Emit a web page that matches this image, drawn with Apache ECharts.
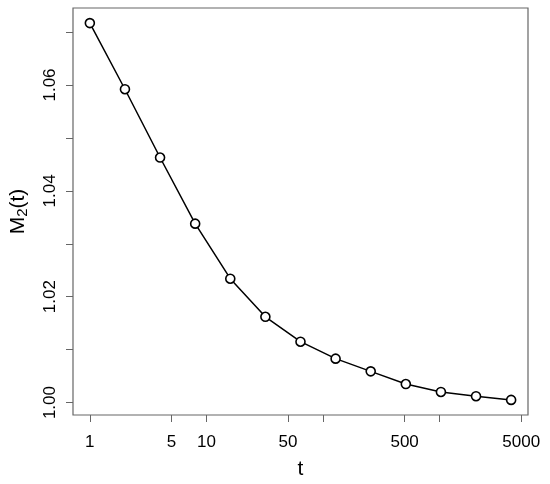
<!DOCTYPE html>
<html>
<head>
<meta charset="utf-8">
<script src="https://cdn.jsdelivr.net/npm/echarts@6/dist/echarts.min.js"></script>
<style>html,body{margin:0;padding:0;background:#fff;}#c{width:550px;height:484px;}</style>
</head>
<body>
<div id="c"></div>
<script>
const tValues = [1, 2, 4, 8, 16, 32, 64, 128, 256, 512, 1024, 2048, 4096];
const m2Values = [1.0717, 1.0592, 1.0463, 1.0338, 1.0234, 1.0162, 1.0115, 1.0083, 1.0059, 1.0035, 1.0020, 1.0012, 1.0005];
const xTickValues = [1, 5, 10, 50, 100, 500, 1000, 5000];
const xLabelValues = [1, 5, 10, 50, 500, 5000];
const yTickValues = [1.00, 1.01, 1.02, 1.03, 1.04, 1.05, 1.06, 1.07];
const yLabelValues = [1.00, 1.02, 1.04, 1.06];

const FONT = "'Liberation Sans', Arial, Helvetica, sans-serif";
const chart = echarts.init(document.getElementById('c'), null, {renderer: 'canvas'});
chart.setOption({
  animation: false,
  backgroundColor: '#ffffff',
  grid: {left: 73, top: 8, right: 22, bottom: 69, show: true, borderColor: '#666666', borderWidth: 1.2, backgroundColor: 'transparent', containLabel: false, outerBoundsMode: 'none'},
  xAxis: {
    type: 'log',
    min: 0.717,
    max: 5714,
    name: 't',
    nameLocation: 'middle',
    nameGap: 44,
    nameTextStyle: {fontFamily: FONT, fontSize: 21, color: '#000'},
    axisLine: {show: false},
    splitLine: {show: false},
    minorTick: {show: false},
    axisTick: {show: true, inside: false, length: 7, lineStyle: {color: '#666666', width: 1}, customValues: xTickValues},
    axisLabel: {fontFamily: FONT, fontSize: 17, color: '#000', margin: 19, customValues: xLabelValues, formatter: v => String(v)}
  },
  yAxis: {
    type: 'value',
    min: 0.99765,
    max: 1.07455,
    name: '{a|M}{b|2}{a|(t)}',
    nameLocation: 'middle',
    nameGap: 43,
    nameTextStyle: {fontFamily: FONT, fontSize: 21, color: '#000',
      rich: {a: {fontFamily: FONT, fontSize: 21, color: '#000'}, b: {fontFamily: FONT, fontSize: 15, color: '#000', verticalAlign: 'bottom', padding: [8, 0, 0, 0]}}},
    axisLine: {show: false},
    splitLine: {show: false},
    axisTick: {show: true, inside: false, length: 7, lineStyle: {color: '#666666', width: 1}, customValues: yTickValues},
    axisLabel: {fontFamily: FONT, fontSize: 17, color: '#000', margin: 14, rotate: 90, customValues: yLabelValues, formatter: v => v.toFixed(2)}
  },
  series: [{
    type: 'line',
    data: tValues.map((t, i) => [t, m2Values[i]]),
    symbol: 'circle',
    symbolSize: 9,
    showSymbol: true,
    lineStyle: {color: '#000', width: 1.5},
    itemStyle: {color: '#fff', borderColor: '#000', borderWidth: 1.6},
    z: 3
  }]
});
</script>
</body>
</html>
